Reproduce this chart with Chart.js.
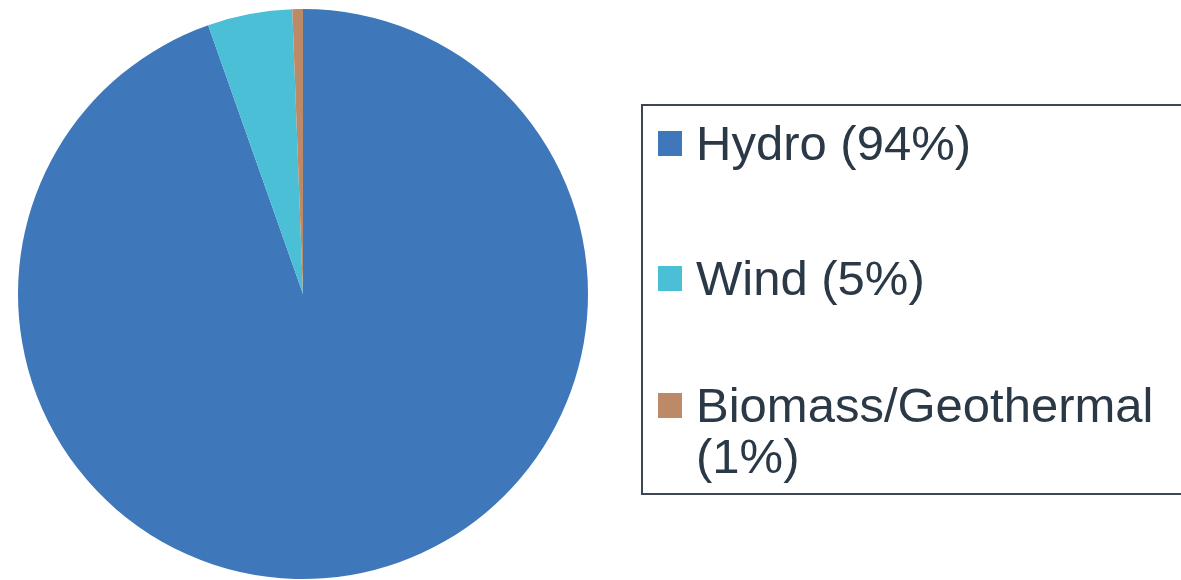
<!DOCTYPE html>
<html>
<head>
<meta charset="utf-8">
<script src="https://cdn.jsdelivr.net/npm/chart.js@4/dist/chart.umd.min.js"></script>
<style>
  html, body { margin:0; padding:0; background:#fff; width:1181px; height:580px; overflow:hidden; }
  #wrap { position:absolute; left:18px; top:9px; width:570px; height:570px; }
  #legend { position:absolute; left:641px; top:104px; width:700px; height:387px; border:2px solid #3d4754; box-sizing:content-box; }
  .item { position:absolute; left:0; font-family:"Liberation Sans", Arial, sans-serif; font-size:49px; line-height:51px; color:#2b3947; }
  .sw { position:absolute; left:15px; width:24px; height:25px; }
  .tx { position:absolute; left:53px; width:480px; white-space:normal; }
</style>
</head>
<body>
<div id="wrap"><canvas id="c" width="570" height="570"></canvas></div>
<div id="legend"></div>
<script>
const categories = ["Hydro", "Wind", "Biomass/Geothermal"];
const shareValues = [94.6, 4.8, 0.6];
const legendLabels = ["Hydro (94%)", "Wind (5%)", "Biomass/Geothermal (1%)"];
const sliceColors = ["#3E77BA", "#4ABFD6", "#BC8A67"];

new Chart(document.getElementById('c'), {
  type: 'pie',
  data: {
    labels: categories,
    datasets: [{ data: shareValues, backgroundColor: sliceColors, borderWidth: 0 }]
  },
  options: {
    responsive: false,
    animation: false,
    layout: { padding: 0 },
    plugins: { legend: { display: false }, tooltip: { enabled: false } }
  }
});

// HTML legend built from the arrays
const legend = document.getElementById('legend');
const tops = [11.5, 146.5, 273.5]; // relative to legend box inner top
legendLabels.forEach((lab, i) => {
  const it = document.createElement('div');
  it.className = 'item';
  it.style.top = tops[i] + 'px';
  const sw = document.createElement('div');
  sw.className = 'sw';
  sw.style.background = sliceColors[i];
  sw.style.top = '13px';
  const tx = document.createElement('div');
  tx.className = 'tx';
  tx.textContent = lab;
  it.appendChild(sw);
  it.appendChild(tx);
  legend.appendChild(it);
});
</script>
</body>
</html>
